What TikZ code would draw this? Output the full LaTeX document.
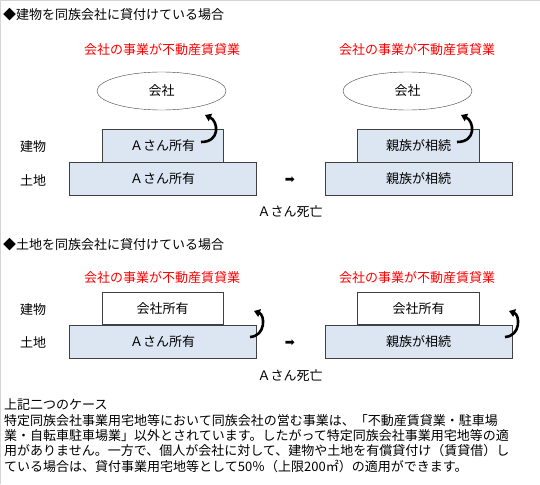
\documentclass[tikz,border=0pt]{standalone}
\usepackage{fontspec}
\setmainfont{Noto Sans CJK JP}
\newfontfamily\dingfont{DejaVu Sans}
\usetikzlibrary{shapes,arrows.meta,positioning}
\definecolor{boxblue}{HTML}{DCE6F2}
\definecolor{framegray}{HTML}{D4D4D4}

\begin{document}
\begin{tikzpicture}[
    x=1pt, y=-1pt,
    font=\fontsize{13}{15.3}\selectfont,
    plot/.style={rectangle, draw=black!75, fill=boxblue, minimum height=33pt, inner sep=0pt},
    owned/.style={rectangle, draw=black!75, fill=white, minimum height=32pt, inner sep=0pt},
    corp/.style={ellipse, draw=black!75, fill=white, minimum width=129pt, minimum height=38pt, inner sep=0pt},
    heading/.style={anchor=west, inner sep=0pt},
    business/.style={text=red, inner sep=0pt},
    side/.style={inner sep=0pt},
    go/.style={inner sep=0pt, font=\dingfont\fontsize{12}{12}\selectfont},
    turn/.style={-{Triangle[width=8pt,length=6pt]}, line width=2.6pt}
]
    \useasboundingbox (0,0) rectangle (540,484);
    \draw[framegray, line width=1pt] (0.5,484) -- (0.5,0.5) -- (540,0.5);

    % case 1: building lent to the company
    \node[heading] (title1) at (3,15) {◆建物を同族会社に貸付けている場合};
    \node[business] (bizA1) at (162,50) {会社の事業が不動産賃貸業};
    \node[business] (bizB1) at (417,50) {会社の事業が不動産賃貸業};
    \node[corp] (compA1) at (161.5,91) {会社};
    \node[corp] (compB1) at (407.5,91) {会社};
    \node[plot, minimum width=187pt] (landA1) at (162.5,179) {Ａさん所有};
    \node[plot, minimum width=121pt, above=0pt of landA1] (bldA1) {Ａさん所有};
    \node[plot, minimum width=187pt] (landB1) at (418.5,179) {親族が相続};
    \node[plot, minimum width=122pt, above=0pt of landB1] (bldB1) {親族が相続};
    \node[side] (bldlab1) at (33,147) {建物};
    \node[side] (landlab1) at (33,180) {土地};
    \node[go] (go1) at (290,180) {➡};
    \node[side] (death1) at (290,212) {Ａさん死亡};

    \coordinate (sA1) at (201,142);
    \coordinate (eA1) at (205,115);
    \coordinate (sB1) at (457,142);
    \coordinate (eB1) at (461,115);
    \draw[turn] (sA1) .. controls (221,142) and (218,121) .. (eA1);
    \draw[turn] (sB1) .. controls (477,142) and (474,121) .. (eB1);

    % case 2: land lent to the company
    \node[heading] (title2) at (3,245) {◆土地を同族会社に貸付けている場合};
    \node[business] (bizA2) at (162,278) {会社の事業が不動産賃貸業};
    \node[business] (bizB2) at (417,278) {会社の事業が不動産賃貸業};
    \node[plot, minimum width=187pt] (landA2) at (162.5,341.5) {Ａさん所有};
    \node[owned, minimum width=121pt, above=0pt of landA2] (bldA2) {会社所有};
    \node[plot, minimum width=187pt] (landB2) at (418.5,341.5) {親族が相続};
    \node[owned, minimum width=122pt, above=0pt of landB2] (bldB2) {会社所有};
    \node[side] (bldlab2) at (33,310) {建物};
    \node[side] (landlab2) at (33,342) {土地};
    \node[go] (go2) at (290,343) {➡};
    \node[side] (death2) at (290,376) {Ａさん死亡};

    \coordinate (sA2) at (250,337);
    \coordinate (eA2) at (254,311);
    \coordinate (sB2) at (505,337);
    \coordinate (eB2) at (509,311);
    \draw[turn] (sA2) .. controls (266,336) and (265,315) .. (eA2);
    \draw[turn] (sB2) .. controls (521,336) and (520,315) .. (eB2);

    % note
    \node[anchor=north west, align=left, inner sep=0pt] (note) at (4,399) {上記二つのケース\\
        特定同族会社事業用宅地等において同族会社の営む事業は、「不動産賃貸業・駐車場\\
        業・自転車駐車場業」以外とされています。したがって特定同族会社事業用宅地等の適\\
        用がありません。一方で、個人が会社に対して、建物や土地を有償貸付け（賃貸借）し\\
        ている場合は、貸付事業用宅地等として50％（上限200㎡）の適用ができます。};
\end{tikzpicture}
\end{document}
